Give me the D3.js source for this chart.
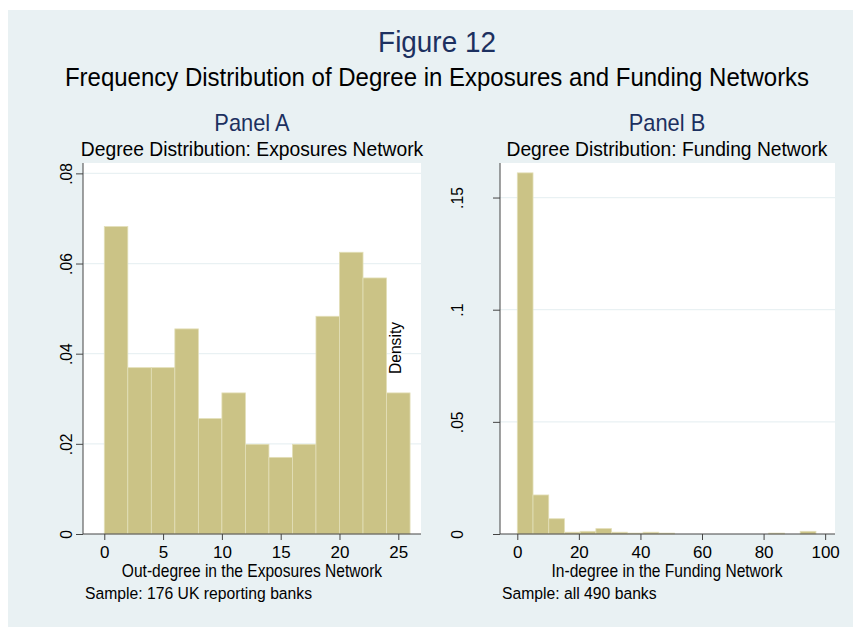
<!DOCTYPE html>
<html>
<head>
<meta charset="utf-8">
<script src="https://cdn.jsdelivr.net/npm/d3@7"></script>
<style>
  body { margin: 0; background: #fff; }
  text { font-family: "Liberation Sans", Arial, sans-serif; }
</style>
</head>
<body>
<div id="chart"></div>
<script>
// Panel A: out-degree, exposures network (bins of width 2 starting at 0)
const binWidthA = 2
const densityA = [0.0682, 0.0369, 0.0369, 0.0455, 0.0256, 0.0313, 0.0199, 0.0170, 0.0199, 0.0483, 0.0625, 0.0568, 0.0313]
const xTicksA = [0, 5, 10, 15, 20, 25]
const yTicksA = [0, 0.02, 0.04, 0.06, 0.08]
const yLabelsA = ['0', '.02', '.04', '.06', '.08']

// Panel B: in-degree, funding network (19 bins up to 97)
const binWidthB = 97 / 19
const densityB = [0.161, 0.0174, 0.0068, 0.0008, 0.0012, 0.0024, 0.0008, 0.0004, 0.0008, 0.0004,
  0, 0, 0, 0, 0, 0, 0.0004, 0, 0.0012]
const xTicksB = [0, 20, 40, 60, 80, 100]
const yTicksB = [0, 0.05, 0.1, 0.15]
const yLabelsB = ['0', '.05', '.1', '.15']

const width = 853,
  height = 627

const navy = '#1c3060',
  barFill = '#cbc386',
  barStroke = '#e3dfb8',
  bg = '#e9f1f3'

let svg = d3.select('#chart')
  .append('svg')
  .attr('width', width)
  .attr('height', height)

svg.append('rect')
  .attr('x', 8).attr('y', 10)
  .attr('width', width - 8).attr('height', height - 10)
  .attr('fill', bg)

// text is a bit condensed in the original, so squeeze it horizontally
const label = (x, y, txt, size, opts = {}) => {
  let t = `translate(${x},${y})`
  if (opts.rotate) t += ` rotate(${opts.rotate})`
  if (opts.sx) t += ` scale(${opts.sx},1)`
  return svg.append('text')
    .attr('transform', t)
    .attr('text-anchor', opts.anchor || 'middle')
    .attr('font-size', size)
    .attr('fill', opts.color || '#000')
    .text(txt)
}

// titles
label(437, 52, 'Figure 12', 30, { color: navy, sx: 0.93 })
label(437, 86, 'Frequency Distribution of Degree in Exposures and Funding Networks', 25, { sx: 0.96 })

let drawPanel = (p) => {
  const x = d3.scaleLinear().domain(p.xDomain).range([p.left, p.right])
  const y = d3.scaleLinear().domain(p.yDomain).range([p.bottom, p.top])

  svg.append('rect')
    .attr('x', p.left).attr('y', p.top)
    .attr('width', p.right - p.left).attr('height', p.bottom - p.top)
    .attr('fill', '#fff')

  // gridlines
  svg.append('g')
    .selectAll('line')
    .data(p.yTicks.filter(d => d > 0))
    .enter()
    .append('line')
    .attr('x1', p.left).attr('x2', p.right)
    .attr('y1', d => y(d)).attr('y2', d => y(d))
    .attr('stroke', bg)
    .attr('stroke-width', 1.2)

  // bars
  svg.append('g')
    .selectAll('rect')
    .data(p.density)
    .enter()
    .append('rect')
    .attr('x', (d, i) => x(i * p.binWidth))
    .attr('y', d => y(d))
    .attr('width', (d, i) => x((i + 1) * p.binWidth) - x(i * p.binWidth))
    .attr('height', d => y(0) - y(d))
    .attr('fill', barFill)
    .attr('stroke', d => d > 0 ? barStroke : 'none')
    .attr('stroke-width', 0.8)

  // y axis
  const yAxis = d3.axisLeft(y)
    .tickValues(p.yTicks)
    .tickSize(7)
    .tickFormat((d, i) => p.yLabels[i])
  let gy = svg.append('g')
    .attr('transform', `translate(${p.left},0)`)
    .call(yAxis)
  gy.select('.domain').attr('d', `M0,${p.top}V${p.bottom}`).attr('stroke', '#444')
  gy.selectAll('.tick line').attr('stroke', '#444')
  gy.selectAll('.tick text')
    .attr('font-size', 17)
    .attr('font-family', '"Liberation Sans", Arial, sans-serif')
    .attr('fill', '#000')
    .attr('text-anchor', 'middle')
    .attr('x', null).attr('dy', null)
    .attr('transform', `translate(${p.yLabelX - p.left},0) rotate(-90) scale(0.92,1)`)

  // x axis
  const xAxis = d3.axisBottom(x)
    .tickValues(p.xTicks)
    .tickSize(6)
    .tickFormat(d3.format('d'))
  let gx = svg.append('g')
    .attr('transform', `translate(0,${p.bottom})`)
    .call(xAxis)
  gx.select('.domain').attr('d', `M${p.left},0H${p.right}`).attr('stroke', '#444')
  gx.selectAll('.tick line').attr('stroke', '#444')
  gx.selectAll('.tick text')
    .attr('font-size', 17)
    .attr('font-family', '"Liberation Sans", Arial, sans-serif')
    .attr('fill', '#000')
    .attr('y', 24).attr('dy', null)

  label(p.titleX, 131, p.title, 23, { color: navy, sx: 0.95 })
  label(p.titleX, 156, p.subtitle, 20.5, { sx: 0.94 })
  label(p.titleX, 577, p.xTitle, 17.5, { sx: 0.89 })
  label(p.noteX, 599, p.note, 17, { anchor: 'start', sx: 0.925 })
}

drawPanel({
  left: 83, right: 421, top: 163, bottom: 534,
  xDomain: [-1.81, 26.93], yDomain: [0, 0.0823],
  binWidth: binWidthA, density: densityA,
  xTicks: xTicksA, yTicks: yTicksA, yLabels: yLabelsA, yLabelX: 72,
  titleX: 252, title: 'Panel A',
  subtitle: 'Degree Distribution: Exposures Network',
  xTitle: 'Out-degree in the Exposures Network',
  noteX: 85, note: 'Sample: 176 UK reporting banks'
})

drawPanel({
  left: 500, right: 835, top: 163, bottom: 534,
  xDomain: [-5.62, 103.2], yDomain: [0, 0.1654],
  binWidth: binWidthB, density: densityB,
  xTicks: xTicksB, yTicks: yTicksB, yLabels: yLabelsB, yLabelX: 463,
  titleX: 667, title: 'Panel B',
  subtitle: 'Degree Distribution: Funding Network',
  xTitle: 'In-degree in the Funding Network',
  noteX: 502, note: 'Sample: all 490 banks'
})

// stray y-axis title from the original layout
label(401, 348, 'Density', 17, { rotate: -90, sx: 0.92 })
</script>
</body>
</html>
